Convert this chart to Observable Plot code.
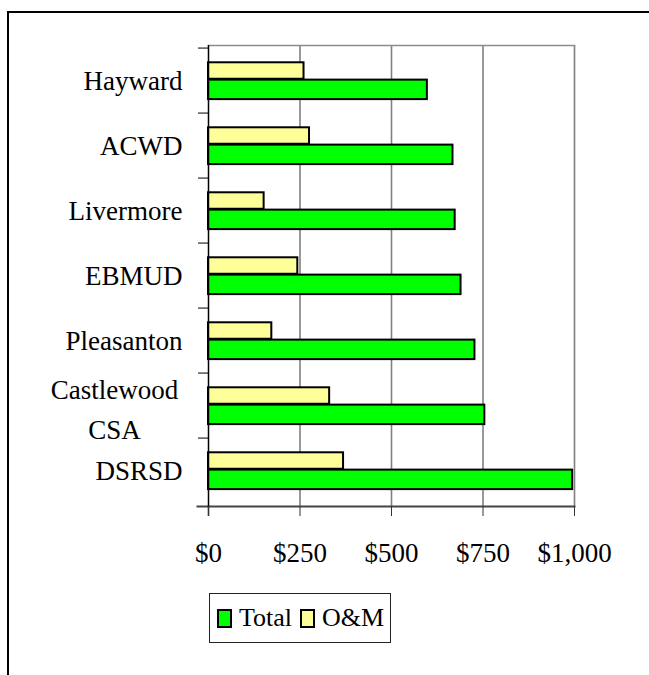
<!DOCTYPE html>
<html>
<head>
<meta charset="utf-8">
<script src="https://cdn.jsdelivr.net/npm/d3@7"></script>
<script src="https://cdn.jsdelivr.net/npm/@observablehq/plot@0.6"></script>
<style>
  html, body { margin: 0; padding: 0; background: #fff; }
  #wrap { position: relative; width: 649px; height: 675px; overflow: hidden; }
  #outer { position: absolute; left: 7px; top: 11px; width: 700px; height: 700px;
           border-left: 2px solid #000; border-top: 2px solid #000; pointer-events: none; }
  #chart { position: absolute; left: 0; top: 0; }
  #legend { position: absolute; left: 209px; top: 593px; height: 50px; box-sizing: border-box;
            border: 1px solid #222; display: flex; align-items: center; padding: 0 6px 0 7px;
            font-family: "Liberation Serif", "Times New Roman", "DejaVu Serif", serif; font-size: 26px; color: #000; background: #fff; }
  .sw { width: 15px; height: 19px; box-sizing: border-box; border: 2px solid #000; margin-right: 7px; }
  .lab { margin-right: 8px; }
</style>
</head>
<body>
<div id="wrap">
  <div id="chart"></div>
  <div id="outer"></div>
  <div id="legend"></div>
</div>
<script>
const categories = ["Hayward", "ACWD", "Livermore", "EBMUD", "Pleasanton", "Castlewood CSA", "DSRSD"];
const totalValues = [598, 668, 674, 690, 728, 755, 995];
const omValues = [261, 276, 152, 244, 173, 331, 369];
const xTicks = [0, 250, 500, 750, 1000];
const seriesNames = ["Total", "O&M"];
const seriesColors = ["#00FF00", "#FFFF99"];

const data = categories.map((c, i) => ({name: c, total: totalValues[i], om: omValues[i]}));

const W = 649, H = 585, mt = 45, mb = 79, ml = 208, mr = 75;
const step = (H - mt - mb) / categories.length;
const serif = '"Liberation Serif", "Times New Roman", "DejaVu Serif", serif';

const chart = Plot.plot({
  width: W, height: H,
  marginTop: mt, marginBottom: mb, marginLeft: ml, marginRight: mr,
  style: {fontFamily: serif, fontSize: "27px", color: "#000", background: "transparent"},
  x: {domain: [0, 1000], label: null},
  y: {domain: categories, padding: 0, label: null},
  marks: [
    Plot.gridX(xTicks.slice(1), {stroke: "#808080", strokeOpacity: 1, strokeWidth: 1.6}),
    Plot.frame({anchor: "top", stroke: "#8c8c8c", strokeWidth: 1.6}),
    Plot.barX(data, {y: "name", x: "om", fill: seriesColors[1], stroke: "#000", strokeWidth: 2,
      insetTop: step * 0.217, insetBottom: step - step * 0.217 - step * 0.263}),
    Plot.barX(data, {y: "name", x: "total", fill: seriesColors[0], stroke: "#000", strokeWidth: 2,
      insetTop: step * 0.48, insetBottom: step * 0.211}),
    Plot.frame({anchor: "bottom", stroke: "#444", strokeWidth: 2, insetLeft: -11}),
    Plot.ruleX([0], {stroke: "#000", strokeWidth: 1.5, insetBottom: -10}),
    Plot.axisY({tickSize: 10, dy: -step / 2, tickFormat: () => "", stroke: "#000", label: null}),
    Plot.axisY({tickSize: 0, tickPadding: 26, label: null, fontFamily: serif,
      tickFormat: d => d === "Castlewood CSA" ? "" : d}),
    Plot.text(["Castlewood\nCSA"], {y: () => "Castlewood CSA", frameAnchor: "left", dx: -94,
      textAnchor: "middle", lineHeight: 1.48, fontSize: 27, fontFamily: serif, fill: "#000"}),
    Plot.axisX({ticks: xTicks, tickFormat: d3.format("$,"), tickSize: 10, tickPadding: 26,
      stroke: "#333", label: null, fontFamily: serif})
  ]
});
document.getElementById("chart").appendChild(chart);

const legend = document.getElementById("legend");
seriesNames.forEach((n, i) => {
  const sw = document.createElement("div");
  sw.className = "sw";
  sw.style.background = seriesColors[i];
  const lab = document.createElement("span");
  lab.className = "lab";
  lab.textContent = n;
  if (i === seriesNames.length - 1) lab.style.marginRight = "0";
  legend.appendChild(sw);
  legend.appendChild(lab);
});
</script>
</body>
</html>
